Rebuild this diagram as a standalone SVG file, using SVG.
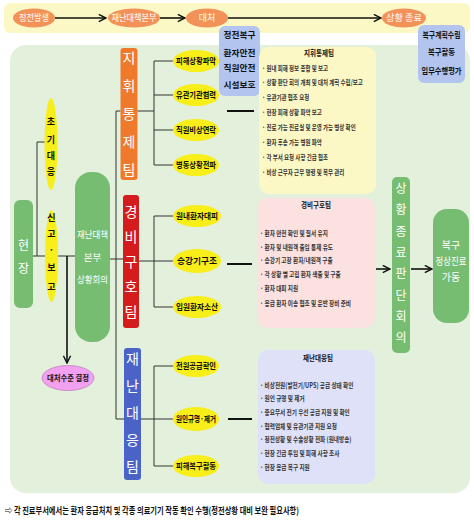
<svg xmlns="http://www.w3.org/2000/svg" width="474" height="522" viewBox="0 0 474 522">
<style>
text{font-family:"Noto Sans CJK KR","Noto Sans",sans-serif}
.w{fill:#fff}
.bk{fill:#111;font-weight:bold}
.c{text-anchor:middle}
.ln{stroke:#333;stroke-width:1;fill:none}
.tk{stroke:#111;stroke-width:2;fill:none}
.ar{stroke:#111;stroke-width:1.6;fill:none}
.yel{fill:#f8ee1a}
.org{fill:#f29258}
.grn{fill:#76bd72}
.blu{fill:#b3c5ee}
.it{font-size:7.4px;fill:#333;font-weight:bold}
.tt{font-size:7.6px;fill:#111;font-weight:bold;text-anchor:middle}
.el{font-size:8.5px;fill:#111;font-weight:bold;text-anchor:middle}
.tm{font-size:14px;fill:#fff;text-anchor:middle}
</style>
<defs>
<marker id="ah" viewBox="0 0 10 10" refX="9" refY="5" markerWidth="9" markerHeight="9" markerUnits="userSpaceOnUse" orient="auto">
<path d="M1,1 L9,5 L1,9" fill="none" stroke="#111" stroke-width="1.6"/>
</marker>
</defs>

<rect x="4" y="3" width="466" height="30" rx="6" fill="#fbf8c6"/>
<rect x="10" y="45" width="460" height="448" rx="16" fill="#e3f0dc"/>

<g id="connectors">
<path class="ar" d="M55,18 H106" marker-end="url(#ah)"/>
<path class="ar" d="M160,18 H185" marker-end="url(#ah)"/>
<path class="ar" d="M228,18 H381" marker-end="url(#ah)"/>
<path class="ln" d="M116,111 V419 M116,111 H120.5 M110,259 H123 M116,419 H124"/>
<path class="ln" d="M137.5,111 H154 M154,61 V165 M154,61 H173 M154,95 H173 M154,130 H173 M154,165 H173"/>
<path class="ln" d="M139,261 H173 M154,216 V307 M154,216 H173 M154,307 H173"/>
<path class="ln" d="M141,419 H173 M154,366 V466 M154,366 H173 M154,466 H173"/>
<path class="tk" d="M227,111 H254 M227,264 H252 M228,419 H252"/>
<path class="ln" d="M33,256 H45 M37,142 V256 M37,142 H45 M58,256 H75"/>
<path class="ar" d="M67,256 V363" marker-end="url(#ah)"/>
<path class="ar" d="M376,269 H390" marker-end="url(#ah)"/>
<path class="ar" d="M411,269 H432" marker-end="url(#ah)"/>
</g>

<g id="n-start"><ellipse class="org" cx="34" cy="18" rx="21" ry="9.5"/><text class="w c" x="34" y="21" font-size="9" textLength="30" lengthAdjust="spacingAndGlyphs">정전발생</text></g>
<g id="n-hq"><ellipse class="org" cx="134" cy="18" rx="26" ry="9.5"/><text class="w c" x="134" y="21" font-size="9" textLength="45" lengthAdjust="spacingAndGlyphs">재난대책본부</text></g>
<g id="n-act"><ellipse class="org" cx="207" cy="18" rx="21" ry="9.5"/><text class="w c" x="207" y="21" font-size="9">대처</text></g>
<g id="n-end"><ellipse class="org" cx="404" cy="18" rx="22" ry="9.5"/><text class="w c" x="404" y="21" font-size="9" textLength="36" lengthAdjust="spacingAndGlyphs">상황 종료</text></g>

<g id="n-recover1"><rect class="blu" x="219" y="26" width="41" height="70" rx="6"/>
<g class="bk c" font-size="8.5"><text x="239.5" y="38" textLength="32" lengthAdjust="spacingAndGlyphs">정전복구</text><text x="239.5" y="56" textLength="32" lengthAdjust="spacingAndGlyphs">환자안전</text><text x="239.5" y="71" textLength="32" lengthAdjust="spacingAndGlyphs">직원안전</text><text x="239.5" y="88" textLength="32" lengthAdjust="spacingAndGlyphs">시설보호</text></g></g>
<g id="n-recover2"><rect class="blu" x="418" y="25" width="47" height="58" rx="6"/>
<g class="bk c" font-size="8.5"><text x="441.5" y="38" textLength="38" lengthAdjust="spacingAndGlyphs">복구계획수립</text><text x="441.5" y="55" textLength="27" lengthAdjust="spacingAndGlyphs">복구활동</text><text x="441.5" y="74" textLength="40" lengthAdjust="spacingAndGlyphs">임무수행평가</text></g></g>

<g id="n-site"><rect class="grn" x="14" y="200" width="19" height="108" rx="6"/><text class="w c" x="23.5" y="250" font-size="12">현</text><text class="w c" x="23.5" y="273" font-size="12">장</text></g>
<g id="n-initial"><ellipse class="yel" cx="51" cy="144" rx="6.5" ry="46"/>
<g class="bk c" font-size="9"><text x="51" y="125">초</text><text x="51" y="143">기</text><text x="51" y="159">대</text><text x="51" y="175">응</text></g></g>
<g id="n-report"><ellipse class="yel" cx="51.5" cy="256" rx="6.5" ry="46"/>
<g class="bk c" font-size="9"><text x="51.5" y="221">신</text><text x="51.5" y="237">고</text><text x="51.5" y="253">·</text><text x="51.5" y="271">보</text><text x="51.5" y="290">고</text></g></g>
<g id="n-meeting"><rect class="grn" x="75" y="172" width="35" height="170" rx="16"/>
<g class="w c" font-size="9.5"><text x="92.5" y="238" textLength="31" lengthAdjust="spacingAndGlyphs">재난대책</text><text x="92.5" y="261">본부</text><text x="92.5" y="283" textLength="31" lengthAdjust="spacingAndGlyphs">상황회의</text></g></g>
<g id="n-level"><ellipse cx="68" cy="378" rx="26" ry="12.5" fill="#f2a0f0" stroke="#b868b8" stroke-width="0.6"/><text class="bk c" x="68" y="381" font-size="8" textLength="42" lengthAdjust="spacingAndGlyphs">대처수준 결정</text></g>

<g id="n-team1"><rect x="120.5" y="48" width="17" height="132" rx="3" fill="#f07a2c"/>
<text class="tm" x="129" y="63">지</text><text class="tm" x="129" y="91">휘</text><text class="tm" x="129" y="119">통</text><text class="tm" x="129" y="147">제</text><text class="tm" x="129" y="175">팀</text></g>
<g id="n-team2"><rect x="123" y="195" width="16" height="133" rx="3" fill="#d41c1c"/>
<text class="tm" x="131" y="217">경</text><text class="tm" x="131" y="242">비</text><text class="tm" x="131" y="267">구</text><text class="tm" x="131" y="292">호</text><text class="tm" x="131" y="317">팀</text></g>
<g id="n-team3"><rect x="124" y="348" width="17" height="132" rx="3" fill="#4b63c6"/>
<text class="tm" x="132.5" y="364">재</text><text class="tm" x="132.5" y="391">난</text><text class="tm" x="132.5" y="418">대</text><text class="tm" x="132.5" y="445">응</text><text class="tm" x="132.5" y="472">팀</text></g>

<g id="n-t1a"><ellipse class="yel" cx="196" cy="61" rx="23" ry="11"/><text class="el" x="196" y="64" textLength="40" lengthAdjust="spacingAndGlyphs">피해상황파악</text></g>
<g id="n-t1b"><ellipse class="yel" cx="196" cy="95" rx="23" ry="11"/><text class="el" x="196" y="98" textLength="40" lengthAdjust="spacingAndGlyphs">유관기관협력</text></g>
<g id="n-t1c"><ellipse class="yel" cx="196" cy="130" rx="23" ry="11"/><text class="el" x="196" y="133" textLength="40" lengthAdjust="spacingAndGlyphs">직원비상연락</text></g>
<g id="n-t1d"><ellipse class="yel" cx="196" cy="165" rx="23" ry="11"/><text class="el" x="196" y="168" textLength="40" lengthAdjust="spacingAndGlyphs">병동상황전파</text></g>
<g id="n-t2a"><ellipse class="yel" cx="197" cy="216" rx="24" ry="11"/><text class="el" x="197" y="219" textLength="42" lengthAdjust="spacingAndGlyphs">원내환자대피</text></g>
<g id="n-t2b"><ellipse class="yel" cx="197" cy="261" rx="24" ry="12"/><text class="el" x="197" y="264" textLength="40" lengthAdjust="spacingAndGlyphs">승강기구조</text></g>
<g id="n-t2c"><ellipse class="yel" cx="197" cy="307" rx="24" ry="11"/><text class="el" x="197" y="310" textLength="42" lengthAdjust="spacingAndGlyphs">입원환자소산</text></g>
<g id="n-t3a"><ellipse class="yel" cx="196" cy="366" rx="23" ry="11"/><text class="el" x="196" y="369" textLength="40" lengthAdjust="spacingAndGlyphs">전원공급확인</text></g>
<g id="n-t3b"><ellipse class="yel" cx="196" cy="419" rx="23" ry="12"/><text class="el" x="196" y="422" textLength="40" lengthAdjust="spacingAndGlyphs">원인규명·제거</text></g>
<g id="n-t3c"><ellipse class="yel" cx="196" cy="466" rx="23" ry="11"/><text class="el" x="196" y="469" textLength="40" lengthAdjust="spacingAndGlyphs">피해복구활동</text></g>

<g id="n-box1"><rect x="259" y="47" width="117" height="147" rx="10" fill="#fcf8c6"/>
<text class="tt" x="319" y="56" textLength="30" lengthAdjust="spacingAndGlyphs">지휘통제팀</text>
<g transform="translate(262,0) scale(0.74,1)" class="it">
<text x="0" y="71">· 원내 피해 정보 종합 및 보고</text>
<text x="0" y="85">· 상황 판단 회의 개최 및 대처 계획 수립/보고</text>
<text x="0" y="100">· 유관기관 협조 요청</text>
<text x="0" y="115">· 현장 피해 상황 파악 보고</text>
<text x="0" y="130">· 진료 가능 진료실 및 운영 가능 병상 확인</text>
<text x="0" y="145">· 환자 후송 가능 병원 파악</text>
<text x="0" y="160">· 각 부서 요청 사항 긴급 협조</text>
<text x="0" y="175">· 비상 근무자 근무 명령 및 복무 관리</text>
</g></g>
<g id="n-box2"><rect x="257" y="198" width="118" height="130" rx="10" fill="#fbe1e0"/>
<text class="tt" x="316" y="208" textLength="30" lengthAdjust="spacingAndGlyphs">경비구호팀</text>
<g transform="translate(260,0) scale(0.76,1)" class="it">
<text x="0" y="236">· 환자 안전 확인 및 질서 유지</text>
<text x="0" y="250">· 환자 및 내원객 출입 통제 유도</text>
<text x="0" y="263">· 승강기 고장 환자/내원객 구출</text>
<text x="0" y="277">· 각 상황 별 고립 환자 색출 및 구출</text>
<text x="0" y="291">· 환자 대피 지원</text>
<text x="0" y="306">· 응급 환자 이송 협조 및 운반 장비 준비</text>
</g></g>
<g id="n-box3"><rect x="258" y="350" width="117" height="134" rx="10" fill="#dfe1f8"/>
<text class="tt" x="318" y="361" textLength="30" lengthAdjust="spacingAndGlyphs">재난대응팀</text>
<g transform="translate(260,0) scale(0.76,1)" class="it">
<text x="0" y="388">· 비상전원(발전기/UPS) 공급 상태 확인</text>
<text x="0" y="401">· 원인 규명 및 제거</text>
<text x="0" y="415">· 중요부서 전기 우선 공급 지원 및 확인</text>
<text x="0" y="429">· 협력업체 및 유관기관 지원 요청</text>
<text x="0" y="442">· 정전상황 및 수술상황 전파 (원내방송)</text>
<text x="0" y="456">· 현장 긴급 투입 및 피해 사항 조사</text>
<text x="0" y="470">· 현장 응급 복구 지원</text>
</g></g>

<g id="n-judge"><rect class="grn" x="392" y="177" width="18" height="176" rx="5"/>
<g class="w c" font-size="12"><text x="401" y="193">상</text><text x="401" y="214">황</text><text x="401" y="236">종</text><text x="401" y="257">료</text><text x="401" y="278">판</text><text x="401" y="300">단</text><text x="401" y="321">회</text><text x="401" y="342">의</text></g></g>
<g id="n-normal"><rect class="grn" x="433" y="209" width="36" height="114" rx="14"/>
<g class="w c" font-size="10"><text x="451" y="249">복구</text><text x="451" y="265" textLength="31" lengthAdjust="spacingAndGlyphs">정상진료</text><text x="451" y="281">가동</text></g></g>

<text class="bk" x="5" y="514" font-size="9" textLength="294" lengthAdjust="spacingAndGlyphs">⇨ 각 진료부서에서는 환자 응급처치 및 각종 의료기기 작동 확인 수행(정전상황 대비 보완 필요사항)</text>
</svg>
